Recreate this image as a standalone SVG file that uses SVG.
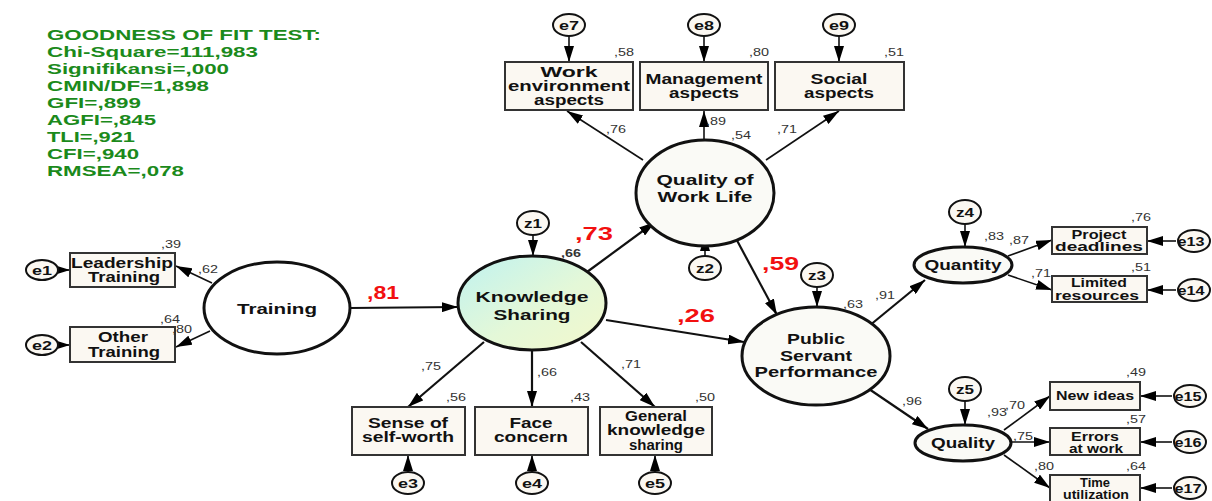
<svg xmlns="http://www.w3.org/2000/svg" width="1212" height="501" viewBox="0 0 1212 501">
<defs>
<marker id="ah" viewBox="0 0 16 10" refX="16" refY="5" markerWidth="16" markerHeight="10" markerUnits="userSpaceOnUse" orient="auto"><path d="M0,0 L16,5 L0,10 Z" fill="#000"/></marker>
<linearGradient id="ksg" x1="0" y1="0" x2="1" y2="1"><stop offset="0" stop-color="#bff2f0"/><stop offset="0.55" stop-color="#e4f8d8"/><stop offset="1" stop-color="#f3f8cc"/></linearGradient>
<style>
.fit{font-family:"Liberation Sans",Arial,sans-serif;font-weight:bold;font-size:15px;fill:#1b8a1b}
.box{fill:#fbf8f2;stroke:#333;stroke-width:2}
.bt{font-family:"Liberation Sans",Arial,sans-serif;font-weight:bold;font-size:14px;fill:#111;text-anchor:middle}
.st{font-family:"Liberation Sans",Arial,sans-serif;font-weight:bold;font-size:12.5px;fill:#111;text-anchor:middle}
.lat{stroke:#111;stroke-width:3}
.lt{font-family:"Liberation Sans",Arial,sans-serif;font-weight:bold;font-size:15px;fill:#111;text-anchor:middle}
.err{fill:#fbf8f2;stroke:#111;stroke-width:2}
.et{font-family:"Liberation Sans",Arial,sans-serif;font-weight:bold;font-size:13px;fill:#111;text-anchor:middle}
.v{font-family:"Liberation Sans",Arial,sans-serif;font-size:11px;fill:#333}
.r{font-family:"Liberation Sans",Arial,sans-serif;font-weight:bold;font-size:19px;fill:#f21010}
.c{stroke:#111;stroke-width:1.6;fill:none;marker-end:url(#ah)}
.cb{stroke:#111;stroke-width:2.2;fill:none;marker-end:url(#ah)}
</style>
</defs>
<rect width="1212" height="501" fill="#fff"/>
<g id="fit">
<text class="fit" x="47" y="40" textLength="274" lengthAdjust="spacingAndGlyphs">GOODNESS OF FIT TEST:</text>
<text class="fit" x="47" y="57" textLength="211" lengthAdjust="spacingAndGlyphs">Chi-Square=111,983</text>
<text class="fit" x="47" y="74" textLength="182" lengthAdjust="spacingAndGlyphs">Signifikansi=,000</text>
<text class="fit" x="47" y="91" textLength="162" lengthAdjust="spacingAndGlyphs">CMIN/DF=1,898</text>
<text class="fit" x="47" y="108" textLength="94" lengthAdjust="spacingAndGlyphs">GFI=,899</text>
<text class="fit" x="47" y="125" textLength="109" lengthAdjust="spacingAndGlyphs">AGFI=,845</text>
<text class="fit" x="47" y="142" textLength="88" lengthAdjust="spacingAndGlyphs">TLI=,921</text>
<text class="fit" x="47" y="159" textLength="92" lengthAdjust="spacingAndGlyphs">CFI=,940</text>
<text class="fit" x="47" y="176" textLength="137" lengthAdjust="spacingAndGlyphs">RMSEA=,078</text>
</g>
<g id="connectors">
<line class="c" x1="569" y1="36" x2="569" y2="62"/>
<line class="c" x1="704" y1="36" x2="704" y2="62"/>
<line class="c" x1="839" y1="36" x2="839" y2="62"/>
<line class="c" x1="643" y1="160" x2="567" y2="111"/>
<line class="c" x1="704" y1="140" x2="704" y2="111"/>
<line class="c" x1="766" y1="160" x2="839" y2="111"/>
<line class="c" x1="58" y1="270" x2="70" y2="270"/>
<line class="c" x1="58" y1="345" x2="70" y2="345"/>
<line class="c" x1="212" y1="283" x2="176" y2="266"/>
<line class="c" x1="210" y1="331" x2="176" y2="347"/>
<line class="cb" x1="350" y1="308" x2="458" y2="307"/>
<line class="c" x1="533" y1="235" x2="533" y2="256"/>
<line class="cb" x1="587" y1="272" x2="655" y2="222"/>
<line class="c" x1="705" y1="256" x2="705" y2="235"/>
<line class="cb" x1="733" y1="233" x2="777" y2="315"/>
<line class="c" x1="817" y1="287" x2="817" y2="307"/>
<line class="cb" x1="606" y1="320" x2="744" y2="342"/>
<line class="cb" x1="484" y1="342" x2="408" y2="407"/>
<line class="cb" x1="532" y1="351" x2="532" y2="407"/>
<line class="cb" x1="581" y1="342" x2="655" y2="407"/>
<line class="c" x1="408" y1="472" x2="408" y2="455"/>
<line class="c" x1="532" y1="472" x2="532" y2="455"/>
<line class="c" x1="655" y1="472" x2="655" y2="455"/>
<line class="cb" x1="869" y1="326" x2="925" y2="280"/>
<line class="cb" x1="869" y1="389" x2="928" y2="429"/>
<line class="c" x1="965" y1="224" x2="965" y2="247"/>
<line class="c" x1="965" y1="401" x2="965" y2="425"/>
<line class="c" x1="1008" y1="256" x2="1052" y2="240"/>
<line class="c" x1="1008" y1="275" x2="1052" y2="290"/>
<line class="c" x1="1176" y1="241" x2="1147" y2="241"/>
<line class="c" x1="1176" y1="290" x2="1147" y2="290"/>
<line class="c" x1="1004" y1="430" x2="1050" y2="396"/>
<line class="c" x1="1011" y1="442" x2="1050" y2="442"/>
<line class="c" x1="1004" y1="455" x2="1050" y2="488"/>
<line class="c" x1="1172" y1="396" x2="1140" y2="396"/>
<line class="c" x1="1172" y1="442" x2="1140" y2="442"/>
<line class="c" x1="1172" y1="488" x2="1140" y2="488"/>
</g>
<g id="e7"><ellipse class="err" cx="569" cy="25" rx="16" ry="11"/><text class="et" x="569" y="30" textLength="20" lengthAdjust="spacingAndGlyphs">e7</text></g>
<g id="e8"><ellipse class="err" cx="704" cy="25" rx="16" ry="11"/><text class="et" x="704" y="30" textLength="20" lengthAdjust="spacingAndGlyphs">e8</text></g>
<g id="e9"><ellipse class="err" cx="839" cy="25" rx="16" ry="11"/><text class="et" x="839" y="30" textLength="20" lengthAdjust="spacingAndGlyphs">e9</text></g>
<g id="work-env"><rect class="box" x="505" y="62" width="128" height="48"/><text class="bt" x="569" y="77" textLength="57" lengthAdjust="spacingAndGlyphs">Work</text><text class="bt" x="569" y="91" textLength="122" lengthAdjust="spacingAndGlyphs">environment</text><text class="bt" x="569" y="105" textLength="70" lengthAdjust="spacingAndGlyphs">aspects</text><text class="v" x="614" y="56" textLength="20" lengthAdjust="spacingAndGlyphs">,58</text></g>
<g id="management"><rect class="box" x="640" y="62" width="128" height="48"/><text class="bt" x="704" y="84" textLength="117" lengthAdjust="spacingAndGlyphs">Management</text><text class="bt" x="704" y="98" textLength="70" lengthAdjust="spacingAndGlyphs">aspects</text><text class="v" x="749" y="56" textLength="20" lengthAdjust="spacingAndGlyphs">,80</text></g>
<g id="social"><rect class="box" x="775" y="62" width="129" height="48"/><text class="bt" x="839" y="84" textLength="57" lengthAdjust="spacingAndGlyphs">Social</text><text class="bt" x="839" y="98" textLength="70" lengthAdjust="spacingAndGlyphs">aspects</text><text class="v" x="884" y="56" textLength="20" lengthAdjust="spacingAndGlyphs">,51</text></g>
<g id="qwl"><ellipse class="lat" cx="705" cy="193" rx="69" ry="53" fill="#fafaf6"/><text class="lt" x="705" y="185" textLength="97" lengthAdjust="spacingAndGlyphs">Quality of</text><text class="lt" x="705" y="202" textLength="95" lengthAdjust="spacingAndGlyphs">Work Life</text><text class="v" x="731" y="139" textLength="20" lengthAdjust="spacingAndGlyphs">,54</text></g>
<g id="qwl-labels"><text class="v" x="606" y="133" textLength="20" lengthAdjust="spacingAndGlyphs">,76</text><text class="v" x="706" y="125" textLength="20" lengthAdjust="spacingAndGlyphs">,89</text><text class="v" x="777" y="133" textLength="20" lengthAdjust="spacingAndGlyphs">,71</text></g>
<g id="e1"><ellipse class="err" cx="42" cy="270" rx="16" ry="10"/><text class="et" x="42" y="275" textLength="20" lengthAdjust="spacingAndGlyphs">e1</text></g>
<g id="e2"><ellipse class="err" cx="42" cy="345" rx="16" ry="10"/><text class="et" x="42" y="350" textLength="20" lengthAdjust="spacingAndGlyphs">e2</text></g>
<g id="leadership"><rect class="box" x="70" y="253" width="105" height="34"/><text class="bt" x="122" y="268" textLength="102" lengthAdjust="spacingAndGlyphs">Leadership</text><text class="bt" x="124" y="282" textLength="72" lengthAdjust="spacingAndGlyphs">Training</text><text class="v" x="161" y="248" textLength="20" lengthAdjust="spacingAndGlyphs">,39</text><text class="v" x="198" y="273" textLength="20" lengthAdjust="spacingAndGlyphs">,62</text></g>
<g id="other"><rect class="box" x="70" y="327" width="105" height="35"/><text class="bt" x="123" y="342" textLength="50" lengthAdjust="spacingAndGlyphs">Other</text><text class="bt" x="124" y="357" textLength="72" lengthAdjust="spacingAndGlyphs">Training</text><text class="v" x="160" y="323" textLength="20" lengthAdjust="spacingAndGlyphs">,64</text><text class="v" x="172" y="333" textLength="20" lengthAdjust="spacingAndGlyphs">,80</text></g>
<g id="training"><ellipse class="lat" cx="277" cy="308" rx="73" ry="46" fill="#fff"/><text class="lt" x="277" y="314" textLength="80" lengthAdjust="spacingAndGlyphs">Training</text></g>
<text class="r" x="367" y="299" textLength="32" lengthAdjust="spacingAndGlyphs">,81</text>
<g id="z1"><ellipse class="err" cx="533" cy="223" rx="16" ry="12"/><text class="et" x="533" y="228" textLength="18" lengthAdjust="spacingAndGlyphs">z1</text></g>
<g id="ks"><ellipse class="lat" cx="532" cy="303" rx="74" ry="47" fill="url(#ksg)"/><text class="lt" x="532" y="302" textLength="113" lengthAdjust="spacingAndGlyphs">Knowledge</text><text class="lt" x="532" y="320" textLength="77" lengthAdjust="spacingAndGlyphs">Sharing</text><text class="v" x="561" y="257" font-weight="bold" textLength="20" lengthAdjust="spacingAndGlyphs">,66</text></g>
<text class="r" x="575" y="240" textLength="38" lengthAdjust="spacingAndGlyphs">,73</text>
<g id="z2"><ellipse class="err" cx="705" cy="268" rx="16" ry="12"/><text class="et" x="705" y="273" textLength="18" lengthAdjust="spacingAndGlyphs">z2</text></g>
<text class="r" x="762" y="270" textLength="37" lengthAdjust="spacingAndGlyphs">,59</text>
<text class="r" x="677" y="322" textLength="38" lengthAdjust="spacingAndGlyphs">,26</text>
<g id="z3"><ellipse class="err" cx="817" cy="275" rx="16" ry="12"/><text class="et" x="817" y="280" textLength="18" lengthAdjust="spacingAndGlyphs">z3</text></g>
<g id="psp"><ellipse class="lat" cx="816" cy="356" rx="74" ry="49" fill="#fafaf6"/><text class="lt" x="816" y="344" textLength="58" lengthAdjust="spacingAndGlyphs">Public</text><text class="lt" x="816" y="361" textLength="72" lengthAdjust="spacingAndGlyphs">Servant</text><text class="lt" x="816" y="377" textLength="123" lengthAdjust="spacingAndGlyphs">Performance</text><text class="v" x="843" y="308" textLength="20" lengthAdjust="spacingAndGlyphs">,63</text><text class="v" x="875" y="299" textLength="20" lengthAdjust="spacingAndGlyphs">,91</text><text class="v" x="902" y="405" textLength="20" lengthAdjust="spacingAndGlyphs">,96</text></g>
<g id="ks-labels"><text class="v" x="421" y="370" textLength="20" lengthAdjust="spacingAndGlyphs">,75</text><text class="v" x="537" y="376" textLength="20" lengthAdjust="spacingAndGlyphs">,66</text><text class="v" x="621" y="368" textLength="20" lengthAdjust="spacingAndGlyphs">,71</text></g>
<g id="self-worth"><rect class="box" x="352" y="407" width="113" height="48"/><text class="bt" x="408" y="428" textLength="80" lengthAdjust="spacingAndGlyphs">Sense of</text><text class="bt" x="408" y="442" textLength="92" lengthAdjust="spacingAndGlyphs">self-worth</text><text class="v" x="446" y="401" textLength="20" lengthAdjust="spacingAndGlyphs">,56</text></g>
<g id="face"><rect class="box" x="475" y="407" width="113" height="48"/><text class="bt" x="531" y="428" textLength="43" lengthAdjust="spacingAndGlyphs">Face</text><text class="bt" x="531" y="442" textLength="74" lengthAdjust="spacingAndGlyphs">concern</text><text class="v" x="570" y="401" textLength="20" lengthAdjust="spacingAndGlyphs">,43</text></g>
<g id="general"><rect class="box" x="600" y="407" width="112" height="48"/><text class="bt" x="656" y="421" textLength="62" lengthAdjust="spacingAndGlyphs">General</text><text class="bt" x="656" y="435" textLength="98" lengthAdjust="spacingAndGlyphs">knowledge</text><text class="bt" x="656" y="450" textLength="54" lengthAdjust="spacingAndGlyphs">sharing</text><text class="v" x="695" y="401" textLength="20" lengthAdjust="spacingAndGlyphs">,50</text></g>
<g id="e3"><ellipse class="err" cx="408" cy="483" rx="16" ry="11"/><text class="et" x="408" y="488" textLength="20" lengthAdjust="spacingAndGlyphs">e3</text></g>
<g id="e4"><ellipse class="err" cx="532" cy="483" rx="16" ry="11"/><text class="et" x="532" y="488" textLength="20" lengthAdjust="spacingAndGlyphs">e4</text></g>
<g id="e5"><ellipse class="err" cx="655" cy="483" rx="16" ry="11"/><text class="et" x="655" y="488" textLength="20" lengthAdjust="spacingAndGlyphs">e5</text></g>
<g id="z4"><ellipse class="err" cx="965" cy="212" rx="16" ry="12"/><text class="et" x="965" y="217" textLength="18" lengthAdjust="spacingAndGlyphs">z4</text></g>
<g id="quantity"><ellipse class="lat" cx="963" cy="265" rx="49" ry="18" fill="#fafaf6"/><text class="lt" x="963" y="270" font-size="14" textLength="77" lengthAdjust="spacingAndGlyphs">Quantity</text><text class="v" x="984" y="240" textLength="20" lengthAdjust="spacingAndGlyphs">,83</text><text class="v" x="1009" y="244" textLength="20" lengthAdjust="spacingAndGlyphs">,87</text><text class="v" x="1031" y="277" textLength="20" lengthAdjust="spacingAndGlyphs">,71</text></g>
<g id="project"><rect class="box" x="1052" y="227" width="95" height="27"/><text class="st" x="1099" y="239" textLength="55" lengthAdjust="spacingAndGlyphs">Project</text><text class="st" x="1099" y="251" textLength="88" lengthAdjust="spacingAndGlyphs">deadlines</text><text class="v" x="1131" y="221" textLength="20" lengthAdjust="spacingAndGlyphs">,76</text></g>
<g id="limited"><rect class="box" x="1052" y="276" width="95" height="26"/><text class="st" x="1099" y="287" textLength="56" lengthAdjust="spacingAndGlyphs">Limited</text><text class="st" x="1097" y="300" textLength="84" lengthAdjust="spacingAndGlyphs">resources</text><text class="v" x="1131" y="271" textLength="20" lengthAdjust="spacingAndGlyphs">,51</text></g>
<g id="e13"><ellipse class="err" cx="1194" cy="241" rx="16" ry="11"/><text class="et" x="1191" y="246" textLength="27" lengthAdjust="spacingAndGlyphs">e13</text></g>
<g id="e14"><ellipse class="err" cx="1194" cy="290" rx="16" ry="11"/><text class="et" x="1191" y="295" textLength="27" lengthAdjust="spacingAndGlyphs">e14</text></g>
<g id="z5"><ellipse class="err" cx="965" cy="389" rx="16" ry="12"/><text class="et" x="965" y="394" textLength="18" lengthAdjust="spacingAndGlyphs">z5</text></g>
<g id="quality"><ellipse class="lat" cx="963" cy="443" rx="48" ry="18" fill="#fafaf6"/><text class="lt" x="963" y="448" font-size="14" textLength="64" lengthAdjust="spacingAndGlyphs">Quality</text><text class="v" x="987" y="416" textLength="20" lengthAdjust="spacingAndGlyphs">,93</text><text class="v" x="1005" y="409" textLength="20" lengthAdjust="spacingAndGlyphs">,70</text><text class="v" x="1013" y="440" textLength="20" lengthAdjust="spacingAndGlyphs">,75</text><text class="v" x="1034" y="470" textLength="20" lengthAdjust="spacingAndGlyphs">,80</text></g>
<g id="new-ideas"><rect class="box" x="1050" y="382" width="90" height="28"/><text class="st" x="1095" y="400" textLength="78" lengthAdjust="spacingAndGlyphs">New ideas</text><text class="v" x="1126" y="376" textLength="20" lengthAdjust="spacingAndGlyphs">,49</text></g>
<g id="errors"><rect class="box" x="1050" y="428" width="90" height="27"/><text class="st" x="1095" y="441" textLength="48" lengthAdjust="spacingAndGlyphs">Errors</text><text class="st" x="1096" y="453" textLength="54" lengthAdjust="spacingAndGlyphs">at work</text><text class="v" x="1126" y="423" textLength="20" lengthAdjust="spacingAndGlyphs">,57</text></g>
<g id="time"><rect class="box" x="1050" y="475" width="90" height="30"/><text class="st" x="1095" y="487" textLength="30" lengthAdjust="spacingAndGlyphs">Time</text><text class="st" x="1096" y="499" textLength="66" lengthAdjust="spacingAndGlyphs">utilization</text><text class="v" x="1126" y="470" textLength="20" lengthAdjust="spacingAndGlyphs">,64</text></g>
<g id="e15"><ellipse class="err" cx="1190" cy="396" rx="16" ry="11"/><text class="et" x="1188" y="401" textLength="27" lengthAdjust="spacingAndGlyphs">e15</text></g>
<g id="e16"><ellipse class="err" cx="1190" cy="442" rx="16" ry="11"/><text class="et" x="1188" y="447" textLength="27" lengthAdjust="spacingAndGlyphs">e16</text></g>
<g id="e17"><ellipse class="err" cx="1190" cy="488" rx="16" ry="11"/><text class="et" x="1188" y="493" textLength="27" lengthAdjust="spacingAndGlyphs">e17</text></g>
</svg>
